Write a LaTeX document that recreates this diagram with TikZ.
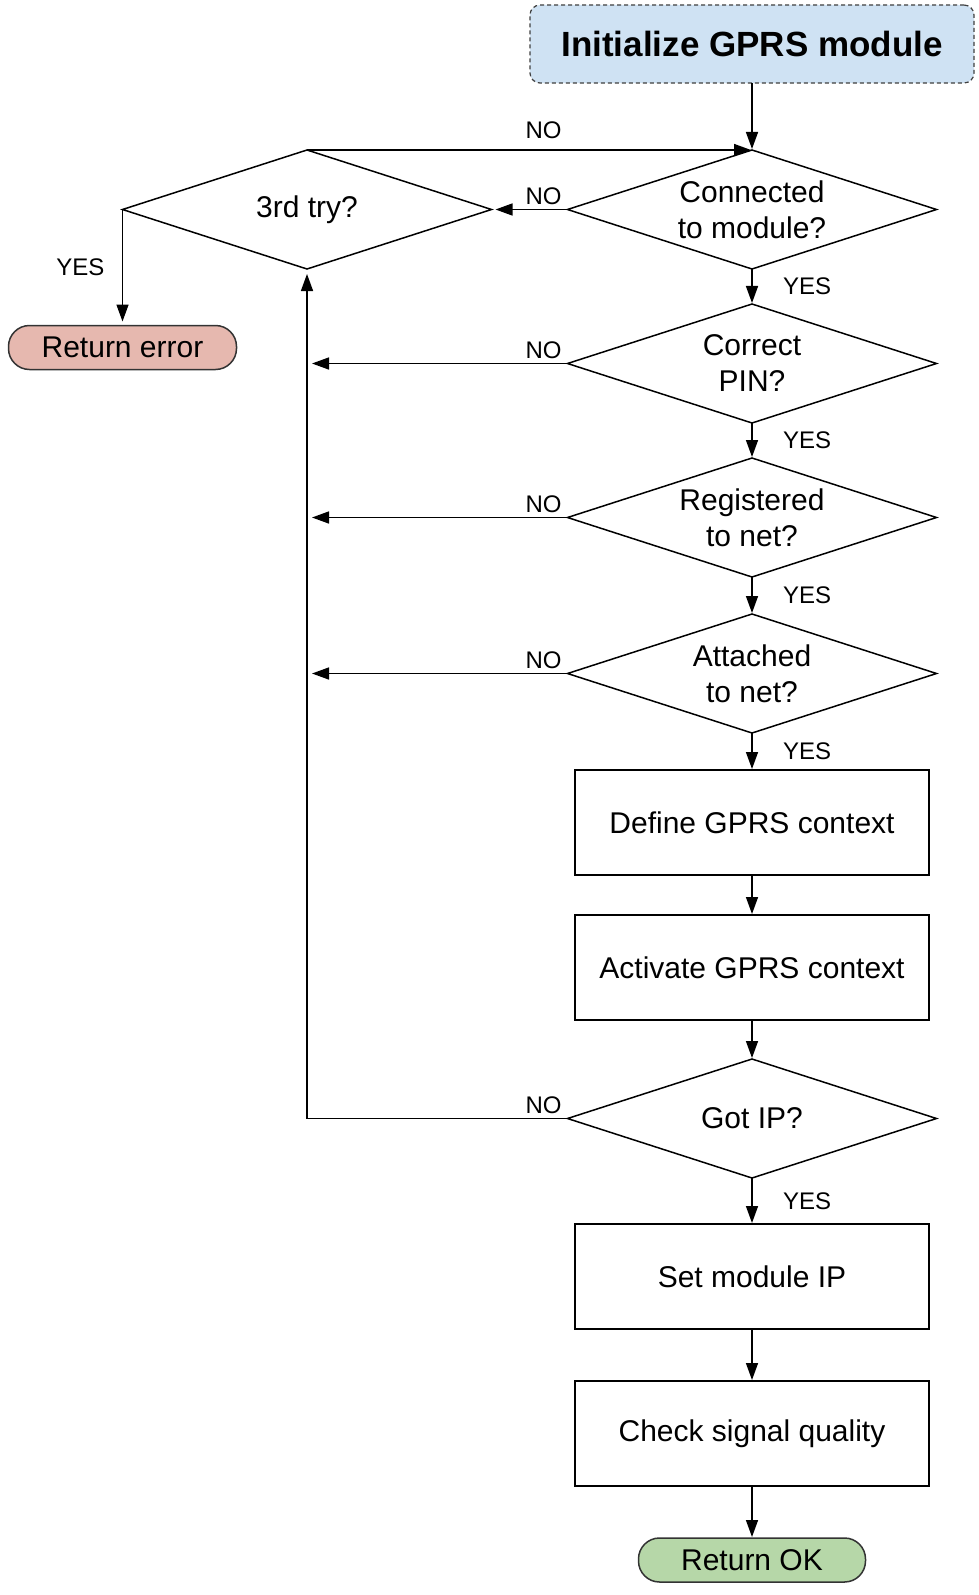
\documentclass[tikz,border=0pt]{standalone}
\usepackage{fontspec}
\setmainfont{Liberation Sans}
\usetikzlibrary{positioning, arrows.meta, calc, shapes.geometric}
\definecolor{initblue}{HTML}{CFE2F3}
\definecolor{errred}{HTML}{E6B8AF}
\definecolor{okgreen}{HTML}{B6D7A8}

\begin{document}
\begin{tikzpicture}[
  x=1pt, y=1pt,
  >={Triangle[length=17pt, width=12pt]},
  every node/.style={font=\fontsize{30}{36}\selectfont, line width=1.5pt, outer sep=0pt},
  decide/.style   = {diamond, draw, aspect=3.1, inner sep=0pt, minimum width=369pt, minimum height=119pt, align=center},
  procbox/.style  = {rectangle, draw, minimum width=354pt, minimum height=105pt},
  endbox/.style   = {rectangle, draw=black!80, rounded corners=21pt, minimum height=44pt},
  startbox/.style = {rectangle, draw=black!75, line width=1.2pt, dash pattern=on 4pt off 3pt, fill=initblue, rounded corners=10pt,
                     minimum width=444pt, minimum height=78pt, font=\fontsize{35}{42}\selectfont\bfseries},
  arr/.style      = {->, line width=1.5pt, shorten >=1pt},
  lbl/.style      = {font=\fontsize{24}{28}\selectfont, inner sep=0pt},
]
  \path[fill=white] (0,0) rectangle (979,-1595);
  \node[startbox] (init) at (752,-44) {Initialize GPRS module};
  \node[decide, below=67pt of init]  (conn)  {Connected\\to module?};
  \node[decide, left=76pt of conn]   (tri)   {3rd try?};
  \node[endbox, fill=errred, minimum width=228pt, below=116pt of tri.west] (err) {Return error};
  \node[decide, below=35pt of conn]  (pin)   {Correct\\PIN?};
  \node[decide, below=35pt of pin]   (reg)   {Registered\\to net?};
  \node[decide, below=37pt of reg]   (att)   {Attached\\to net?};
  \node[procbox, below=37pt of att]  (def)   {Define GPRS context};
  \node[procbox, below=40pt of def]  (act)   {Activate GPRS context};
  \node[decide, below=39pt of act]   (ip)    {Got IP?};
  \node[procbox, below=46pt of ip]   (setip) {Set module IP};
  \node[procbox, below=52pt of setip](chk)   {Check signal quality};
  \node[endbox, fill=okgreen, minimum width=227pt, below=52pt of chk] (ok) {Return OK};
  \foreach \a/\b in {init/conn,conn/pin,pin/reg,reg/att,att/def,def/act,act/ip,ip/setip,setip/chk,chk/ok}\draw[arr](\a)--(\b);
  % retry loop
  \draw[arr] (tri.north) -- (conn.north);
  \draw[arr, shorten >=4pt] (conn.west) -- (tri.east);
  \draw[arr, shorten >=4pt] (tri.west) -- (err.north);
  \foreach \n in {pin,reg,att}\draw[arr, shorten >=5pt](\n.west)--(\n.west -| tri.south);
  \draw[arr, shorten >=5pt] (ip.west) -| (tri.south);
  % labels
  \foreach \n in {conn,pin,reg,att,ip}\node[lbl, anchor=south east] at ($(\n.west)+(-6,5)$){NO};
  \node[lbl, anchor=south east] at ($(conn.north -| conn.west)+(-6,11)$){NO};
  \foreach \a/\b in {conn/pin,pin/reg,reg/att,att/def,ip/setip}\node[lbl, anchor=west] at ($(\a.south)!0.5!(\b.north)+(31,0)$){YES};
  \node[lbl, anchor=east] at ($(tri.west)!0.5!(err.north)+(-18,0)$){YES};
\end{tikzpicture}
\end{document}
